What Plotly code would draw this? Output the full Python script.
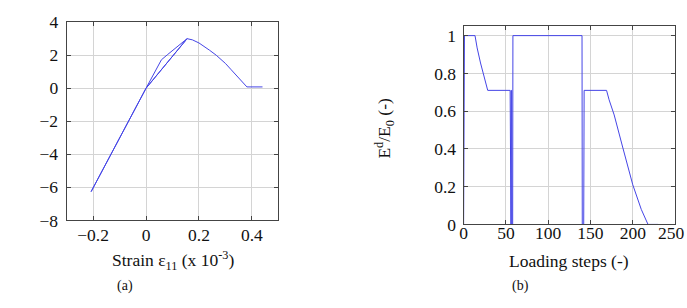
import plotly.graph_objects as go

# Panel (a): stress vs strain
strain = [0, 0.058, 0.08, 0.1, 0.128, 0.155, 0, -0.2075, 0, 0.155, 0.175, 0.2, 0.22, 0.24, 0.265,
          0.285, 0.3, 0.32, 0.34, 0.36, 0.381, 0.44]
stress = [0, 1.72, 2.02, 2.28, 2.66, 3.0, 0, -6.26, 0, 3.0, 2.93, 2.74, 2.54, 2.3, 2.0,
          1.72, 1.5, 1.15, 0.8, 0.44, 0.08, 0.08]

# Panel (b): stiffness ratio vs loading steps
steps = [0, 1, 13.5, 16, 20, 24, 28.5, 55, 55.3, 56, 56.3, 56.8, 57, 58, 58.3, 140, 140.3, 142, 142.5,
         169, 172, 178, 188, 200, 210, 218, 230]
ratio = [0, 1, 1, 0.935, 0.855, 0.78, 0.71, 0.71, 0, 0, 0.71, 0.71, 0, 0, 1, 1, 0, 0, 0.71,
         0.71, 0.66, 0.58, 0.41, 0.21, 0.08, 0, 0]

xa_ticks = [-0.2, 0, 0.2, 0.4]
ya_ticks = [-8, -6, -4, -2, 0, 2, 4]
xb_ticks = [0, 50, 100, 150, 200, 250]
yb_ticks = [0, 0.2, 0.4, 0.6, 0.8, 1]

W, H = 687, 308
LINE = "#4545e6"
FONT = "Liberation Serif"
TXT = "#111111"

fig = go.Figure()
fig.add_trace(go.Scatter(x=strain, y=stress, mode="lines", line=dict(color=LINE, width=1),
                         xaxis="x", yaxis="y", showlegend=False, hoverinfo="skip"))
fig.add_trace(go.Scatter(x=steps, y=ratio, mode="lines", line=dict(color=LINE, width=1),
                         xaxis="x2", yaxis="y2", showlegend=False, hoverinfo="skip"))

def px_x(a, b):
    return [a / W, b / W]

def px_y(top, bottom):
    return [1 - bottom / H, 1 - top / H]

def axis_style():
    return dict(showgrid=True, gridcolor="#d4d4d4", gridwidth=1, zeroline=False,
                showline=True, linecolor="#444444", linewidth=1, mirror="ticks",
                ticks="inside", ticklen=4, tickcolor="#444444",
                tickfont=dict(family=FONT, size=17.5, color=TXT))

fig.update_layout(
    width=W, height=H, margin=dict(l=0, r=0, t=0, b=0),
    paper_bgcolor="white", plot_bgcolor="white",
    font=dict(family=FONT, size=17.5, color=TXT),
    xaxis=dict(domain=px_x(63, 276), range=[-0.3, 0.5], tickvals=xa_ticks, anchor="y",
               ticklabelstandoff=-1, **axis_style()),
    yaxis=dict(domain=px_y(13, 225), range=[-8, 4], tickvals=ya_ticks, anchor="x",
               ticklabelstandoff=4, **axis_style()),
    xaxis2=dict(domain=px_x(462.3, 675), range=[0, 250], tickvals=xb_ticks, anchor="y2",
                ticklabelstandoff=-7, **axis_style()),
    yaxis2=dict(domain=px_y(17.3, 229.3), range=[0, 1.05], tickvals=yb_ticks, anchor="x2",
                ticklabelstandoff=3, **axis_style()),
)

def ann(text, x, y, size=17.5, angle=0, xanchor="center"):
    fig.add_annotation(text=text, x=x / W, y=1 - y / H, xref="paper", yref="paper",
                       showarrow=False, textangle=angle, xanchor=xanchor, yanchor="middle",
                       font=dict(family=FONT, size=size, color=TXT))

ann("Strain ε<sub>11</sub> (x 10<sup>-3</sup>)", 169.5, 268)
ann("Loading steps (-)", 568.5, 268)
ann("E<sup>d</sup>/E<sub>0</sub> (-)", 383, 126, angle=-90)
ann("(a)", 122, 295, size=14)
ann("(b)", 520, 295, size=14)
# the last tick label of panel (b) runs past the page edge and is clipped there
ann(str(xb_ticks[-1]), 687, 238.5, xanchor="right")

fig.write_html("out.html")
